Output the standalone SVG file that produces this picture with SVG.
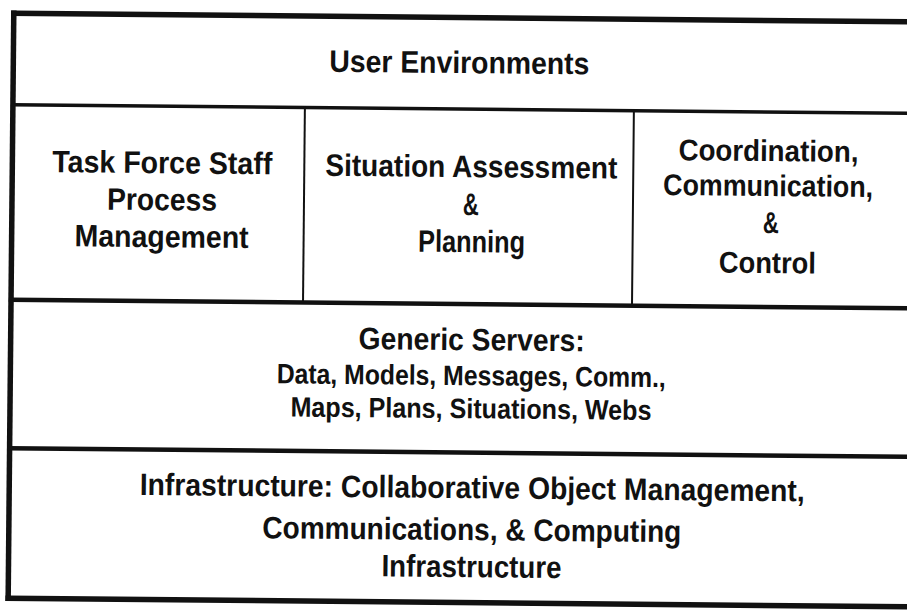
<svg xmlns="http://www.w3.org/2000/svg" width="907" height="611" viewBox="0 0 907 611">
  <style>
    text { font-family: "Liberation Sans", Arial, sans-serif; font-weight: bold; fill: #111; text-anchor: middle; }
    .t { font-size: 31px; }
    .c { font-size: 30px; }
    .s { font-size: 28px; }
    .border { stroke: #111; fill: none; stroke-linecap: square; }
    .outer { stroke-width: 5.5; }
    .inner { stroke-width: 3.5; }
    .mid { stroke-width: 4.5; }
    .thin { stroke-width: 2; }
  </style>
  <rect x="0" y="0" width="907" height="611" fill="#fff"/>
  <g transform="rotate(0.55 453 305)">
    <g id="connectors">
      <line class="border outer" x1="11" y1="17.5" x2="915" y2="17.5"/>
      <line class="border outer" x1="11" y1="17.5" x2="11" y2="602.5"/>
      <line class="border outer" x1="11" y1="602.5" x2="915" y2="602.5"/>
      <line class="border inner" x1="11" y1="109" x2="915" y2="109"/>
      <line class="border mid" x1="11" y1="304" x2="915" y2="304"/>
      <line class="border mid" x1="11" y1="452.5" x2="915" y2="452.5"/>
      <line class="border thin" x1="303" y1="109" x2="303" y2="304"/>
      <line class="border thin" x1="632" y1="109" x2="632" y2="304"/>
    </g>
    <g id="user-environments">
      <text class="t" x="457" y="73" textLength="260" lengthAdjust="spacingAndGlyphs">User Environments</text>
    </g>
    <g id="task-force-staff">
      <text class="t" x="161" y="176" textLength="220" lengthAdjust="spacingAndGlyphs">Task Force Staff</text>
      <text class="t" x="161" y="213" textLength="110" lengthAdjust="spacingAndGlyphs">Process</text>
      <text class="t" x="161" y="250" textLength="174" lengthAdjust="spacingAndGlyphs">Management</text>
    </g>
    <g id="situation-assessment">
      <text class="t" x="470" y="177" textLength="292" lengthAdjust="spacingAndGlyphs">Situation Assessment</text>
      <text class="t" x="470" y="215" textLength="16" lengthAdjust="spacingAndGlyphs">&amp;</text>
      <text class="t" x="471" y="252" textLength="107" lengthAdjust="spacingAndGlyphs">Planning</text>
    </g>
    <g id="coordination">
      <text class="c" x="767" y="158" textLength="180" lengthAdjust="spacingAndGlyphs">Coordination,</text>
      <text class="c" x="767" y="193" textLength="210" lengthAdjust="spacingAndGlyphs">Communication,</text>
      <text class="c" x="770" y="230" textLength="16" lengthAdjust="spacingAndGlyphs">&amp;</text>
      <text class="c" x="767" y="270" textLength="97" lengthAdjust="spacingAndGlyphs">Control</text>
    </g>
    <g id="generic-servers">
      <text class="t" x="472" y="350" textLength="226" lengthAdjust="spacingAndGlyphs">Generic Servers:</text>
      <text class="s" x="472" y="385" textLength="389" lengthAdjust="spacingAndGlyphs">Data, Models, Messages, Comm.,</text>
      <text class="s" x="472" y="418" textLength="361" lengthAdjust="spacingAndGlyphs">Maps, Plans, Situations, Webs</text>
    </g>
    <g id="infrastructure">
      <text class="t" x="474" y="498" textLength="665" lengthAdjust="spacingAndGlyphs">Infrastructure: Collaborative Object Management,</text>
      <text class="t" x="474" y="540" textLength="419" lengthAdjust="spacingAndGlyphs">Communications, &amp; Computing</text>
      <text class="t" x="474" y="577" textLength="180" lengthAdjust="spacingAndGlyphs">Infrastructure</text>
    </g>
  </g>
</svg>
